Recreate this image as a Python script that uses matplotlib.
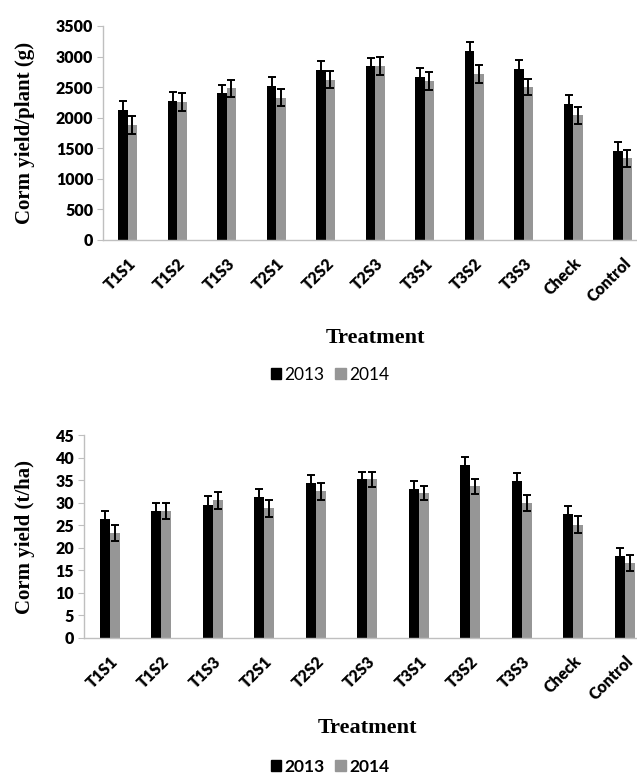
import matplotlib
matplotlib.use("Agg")
import matplotlib.pyplot as plt
import numpy as np
from matplotlib.patches import Patch

# data
treatments = ["T1S1", "T1S2", "T1S3", "T2S1", "T2S2", "T2S3",
              "T3S1", "T3S2", "T3S3", "Check", "Control"]
years = ["2013", "2014"]

plant_2013 = [2130, 2275, 2400, 2525, 2780, 2840, 2665, 3090, 2800, 2230, 1460]
plant_2014 = [1880, 2255, 2480, 2330, 2625, 2840, 2600, 2715, 2500, 2040, 1335]
plant_err_2013 = [150, 150, 140, 145, 150, 140, 140, 145, 150, 140, 145]
plant_err_2014 = [140, 150, 140, 145, 145, 145, 140, 140, 135, 135, 140]

ha_2013 = [26.4, 28.1, 29.5, 31.3, 34.4, 35.2, 33.0, 38.4, 34.7, 27.5, 18.1]
ha_2014 = [23.2, 28.1, 30.5, 28.8, 32.5, 35.2, 32.2, 33.6, 29.9, 25.1, 16.6]
ha_err_2013 = [1.8, 1.8, 1.9, 1.7, 1.7, 1.7, 1.9, 1.7, 1.8, 1.7, 1.9]
ha_err_2014 = [1.8, 1.8, 1.8, 1.9, 1.8, 1.7, 1.6, 1.7, 1.8, 1.9, 1.8]

BLACK = "#000000"
GREY = "#969696"
AXIS = "#bfbfbf"
TICK_FONT = dict(family="Lato", weight="heavy", size=11.5)
YLAB_FONT = dict(family="Liberation Serif", weight="bold", size=15)
XLAB_FONT = dict(family="Liberation Serif", weight="bold", size=16)

W, H = 637, 778
fig = plt.figure(figsize=(W / 100, H / 100), dpi=100)


def draw_panel(rect, v13, v14, e13, e14, ymax, ystep, ylabel,
               ylab_x, legend_y, legend_bold):
    ax = fig.add_axes(rect)
    x = np.arange(len(treatments))
    w = 0.19
    ax.bar(x - w / 2, v13, w, color=BLACK, zorder=2)
    ax.bar(x + w / 2, v14, w, color=GREY, zorder=2)
    ax.errorbar(x - w / 2, v13, yerr=e13, fmt="none", ecolor=BLACK,
                elinewidth=1.4, capsize=3, capthick=1.4, zorder=3)
    ax.errorbar(x + w / 2, v14, yerr=e14, fmt="none", ecolor=BLACK,
                elinewidth=1.4, capsize=3, capthick=1.4, zorder=3)

    ax.set_xlim(-0.5, len(treatments) - 0.5)
    ax.set_ylim(0, ymax)
    ax.set_yticks(np.arange(0, ymax + ystep / 2, ystep))
    ax.set_xticks(x)
    ax.set_xticklabels(treatments, rotation=45, ha="right",
                       rotation_mode="anchor", **TICK_FONT)
    for lab in ax.get_yticklabels():
        lab.set_fontproperties(matplotlib.font_manager.FontProperties(**TICK_FONT))

    for s in ["top", "right"]:
        ax.spines[s].set_visible(False)
    for s in ["left", "bottom"]:
        ax.spines[s].set_color(AXIS)
        ax.spines[s].set_linewidth(1)
    ax.tick_params(axis="y", length=4, color=AXIS, pad=3)
    ax.tick_params(axis="x", length=0, pad=11)

    ax.set_ylabel(ylabel, va="center", **YLAB_FONT)
    ax.yaxis.set_label_coords(ylab_x, 0.5)
    ax.set_xlabel("Treatment", va="center", **XLAB_FONT)

    handles = [Patch(color=BLACK), Patch(color=GREY)]
    fig.legend(handles, years, loc="center", bbox_to_anchor=(330 / W, legend_y),
               ncol=2, frameon=False, handlelength=0.6, handleheight=0.6,
               handletextpad=0.2, columnspacing=0.6,
               prop=dict(family="Lato", size=12.5,
                         weight="bold" if legend_bold else "normal"))
    return ax


# top panel: g per plant
ax1 = draw_panel([103 / W, 1 - 240 / H, 544.5 / W, 214 / H],
                 plant_2013, plant_2014, plant_err_2013, plant_err_2014,
                 3500, 500, "Corm yield/plant (g)",
                 (25 - 103) / 544.5, 1 - 375 / H, False)
ax1.xaxis.set_label_coords(0.5, (240 - 338) / 214)

# bottom panel: t per ha
ax2 = draw_panel([84 / W, 1 - 638 / H, 566.5 / W, 203 / H],
                 ha_2013, ha_2014, ha_err_2013, ha_err_2014,
                 45, 5, "Corm yield (t/ha)",
                 (25 - 84) / 566.5, 1 - 767 / H, True)
ax2.xaxis.set_label_coords(0.5, (638 - 728) / 203)

fig.savefig("out.png", dpi=100)
